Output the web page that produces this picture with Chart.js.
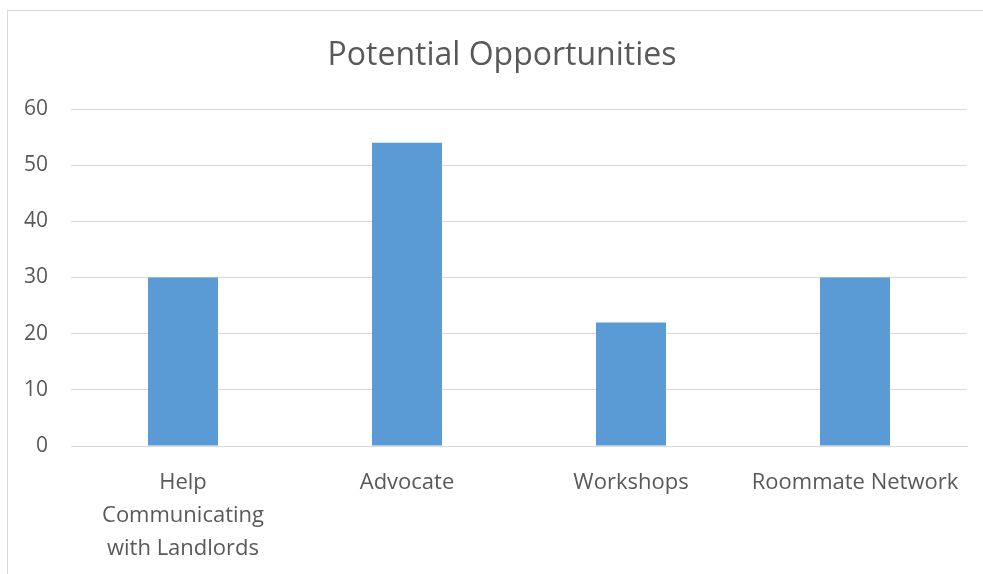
<!DOCTYPE html>
<html>
<head>
<meta charset="utf-8">
<script src="https://cdn.jsdelivr.net/npm/chart.js@4.4.0/dist/chart.umd.min.js"></script>
<style>
  html, body { margin: 0; padding: 0; background: #fff; }
  #wrap { position: absolute; left: 7px; top: 10px; width: 976px; height: 564px;
          border-left: 1px solid #d9d9d9; border-top: 1px solid #d9d9d9; }
  canvas { display: block; }
</style>
</head>
<body>
<div id="wrap"><canvas id="c" width="975" height="563"></canvas></div>
<script>
var chartTitle = 'Potential Opportunities';
var categories = [['Help', 'Communicating', 'with Landlords'], 'Advocate', 'Workshops', 'Roommate Network'];
var values = [30, 54, 22, 30];
var yTicks = [0, 10, 20, 30, 40, 50, 60];

var txt = '#595959';

// title sits a bit right of the canvas centre in the original, so draw it ourselves
var titlePlugin = {
    id: 'offTitle',
    afterDraw: function (chart) {
        var c = chart.ctx;
        c.save();
        c.font = '32px "Open Sans"';
        c.fillStyle = txt;
        c.textAlign = 'center';
        c.textBaseline = 'middle';
        c.fillText(chartTitle, 494, 45);
        c.restore();
    }
};

var ctx = document.getElementById('c').getContext('2d');
var chart = new Chart(ctx, {
    type: 'bar',
    data: { labels: categories, datasets: [
        { label: 'Series 1', data: values, backgroundColor: '#5b9bd5', borderWidth: 0, categoryPercentage: 1.0, barPercentage: 0.3125 }
    ]},
    options: {
        responsive: false, animation: false,
        layout: { padding: { left: 0, right: 16, top: 98, bottom: 0 } },
        plugins: {
            legend: { display: false },
            tooltip: { enabled: false },
            title: { display: false }
        },
        scales: {
            x: {
                afterFit: function (axis) { axis.height = 128; },
                grid: { display: false },
                border: { display: true, color: '#d9d9d9', width: 1 },
                ticks: { color: txt, font: { family: 'Open Sans', size: 22, lineHeight: 1.5 }, padding: 12, maxRotation: 0, autoSkip: false }
            },
            y: {
                min: yTicks[0], max: yTicks[yTicks.length - 1],
                afterBuildTicks: function (axis) { axis.ticks = yTicks.map(function (v) { return { value: v }; }); },
                afterFit: function (axis) { axis.width = 63; },
                grid: { color: '#d9d9d9', drawTicks: false },
                border: { display: false },
                ticks: { color: txt, font: { family: 'Open Sans', size: 21 }, padding: 23 }
            }
        }
    },
    plugins: [titlePlugin]
});
</script>
</body>
</html>
